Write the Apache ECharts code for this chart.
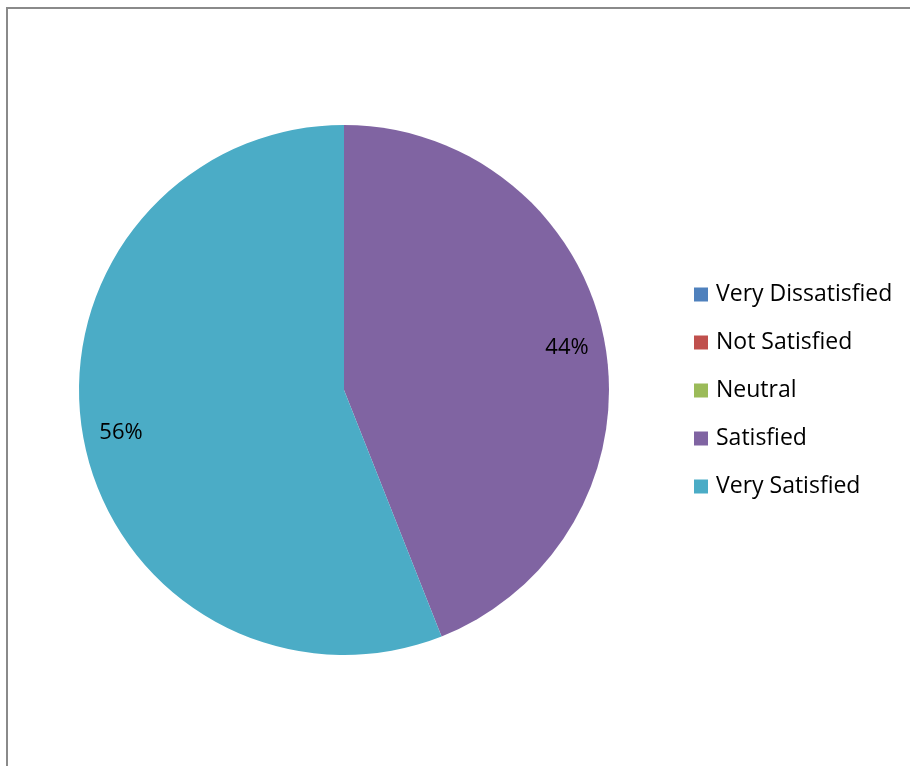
<!DOCTYPE html>
<html>
<head>
<meta charset="utf-8">
<script src="https://cdn.jsdelivr.net/npm/echarts@6/dist/echarts.min.js"></script>
<style>
html,body{margin:0;padding:0;background:#fff;}
#frame{position:absolute;left:6px;top:7px;width:910px;height:770px;border-left:2px solid #8a8a8a;border-top:2px solid #8a8a8a;box-sizing:border-box;}
#chart{position:absolute;left:0;top:0;width:910px;height:766px;}
</style>
</head>
<body>
<div id="frame"></div>
<div id="chart"></div>
<script>
const categories = ['Very Dissatisfied', 'Not Satisfied', 'Neutral', 'Satisfied', 'Very Satisfied'];
const values = [0, 0, 0, 44, 56];
const colors = ['#4F81BD', '#C0504D', '#9BBB59', '#8064A2', '#4BACC6'];

const data = categories.map((c, i) => ({ name: c, value: values[i], itemStyle: { color: colors[i] } }));
const total = values.reduce((a, b) => a + b, 0);
const FONT = '"Open Sans", Lato, sans-serif';

const chart = echarts.init(document.getElementById('chart'), null, { renderer: 'canvas' });
chart.setOption({
  backgroundColor: 'transparent',
  animation: false,
  legend: {
    orient: 'vertical',
    left: 694,
    top: 283,
    padding: 0,
    itemWidth: 14,
    itemHeight: 14,
    itemGap: 25,
    icon: 'rect',
    data: categories,
    textStyle: { fontFamily: FONT, fontSize: 23, color: '#000', padding: [0, 0, 0, 3] },
    selectedMode: false
  },
  series: [
    {
      type: 'pie',
      center: [344, 390],
      radius: [0, 265],
      startAngle: 90,
      clockwise: true,
      data: data,
      label: { show: false },
      labelLine: { show: false },
      itemStyle: { borderWidth: 0 },
      emphasis: { disabled: true }
    },
    {
      type: 'pie',
      center: [344, 390],
      radius: [183, 265],
      startAngle: 90,
      clockwise: true,
      silent: true,
      legendHoverLink: false,
      data: data.map(d => ({ name: d.name, value: d.value, itemStyle: { color: 'rgba(0,0,0,0)' } })),
      label: {
        show: true,
        position: 'inside',
        fontFamily: FONT,
        fontSize: 22,
        color: '#000',
        formatter: p => p.value > 0 ? Math.round(p.value / total * 100) + '%' : ''
      },
      labelLine: { show: false },
      itemStyle: { borderWidth: 0 },
      emphasis: { disabled: true }
    }
  ]
});
</script>
</body>
</html>
